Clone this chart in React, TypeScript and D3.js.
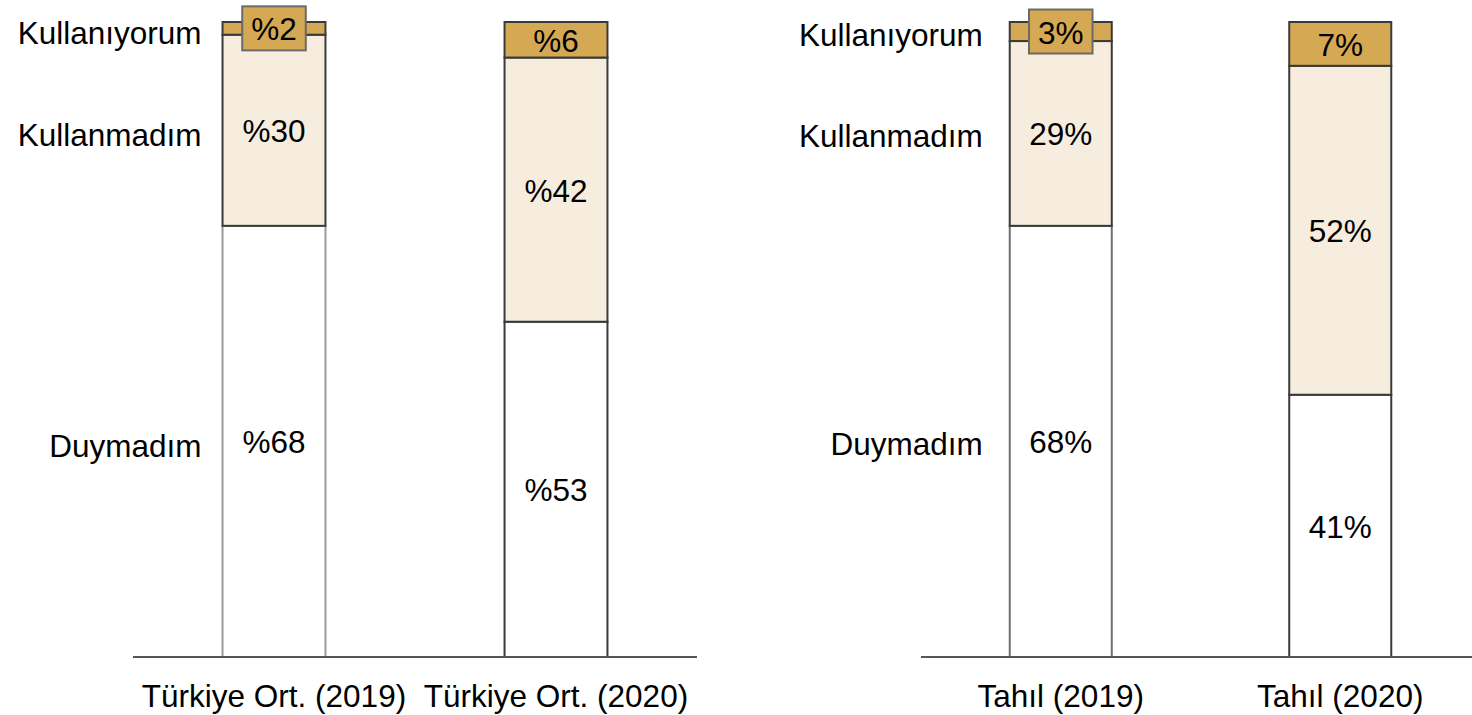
import React, { useEffect, useRef } from 'react';
import * as d3 from 'd3';

// segment names, bottom to top
const categories = ['Duymadım', 'Kullanmadım', 'Kullanıyorum'];

// left panel
const leftGroups = ['Türkiye Ort. (2019)', 'Türkiye Ort. (2020)'];
const leftDuymadim = [67.9, 52.8];
const leftKullanmadim = [30.1, 41.6];
const leftKullaniyorum = [2.0, 5.6];

// right panel
const rightGroups = ['Tahıl (2019)', 'Tahıl (2020)'];
const rightDuymadim = [67.9, 41.3];
const rightKullanmadim = [29.1, 51.8];
const rightKullaniyorum = [3.0, 6.9];

const width = 1472;
const height = 715;
const font = '"Liberation Sans", Arial, sans-serif';
const fontSize = '31.5px';
const fills = ['#ffffff', '#f6eddf', '#d5a853'];

export default function App() {
    const svgRef = useRef<SVGSVGElement>(null);

    useEffect(() => {
        const svg = d3.select(svgRef.current)
            .attr('width', width)
            .attr('height', height);

        svg.selectAll('*').remove();

        const yScale = d3.scaleLinear()
            .domain([0, 100])
            .range([657, 22]);

        const panels = [
            {
                groups: leftGroups,
                series: [leftDuymadim, leftKullanmadim, leftKullaniyorum],
                range: [133, 697],
                fmt: (v: number) => '%' + Math.round(v),
                sideColor: '#9a9a9a',
                labelShift: 5,
                labelGap: 21,
            },
            {
                groups: rightGroups,
                series: [rightDuymadim, rightKullanmadim, rightKullaniyorum],
                range: [921, 1480],
                fmt: (v: number) => Math.round(v) + '%',
                sideColor: '#6f6f6f',
                labelShift: 3,
                labelGap: 27,
            },
        ];

        panels.forEach(p => {
            const xScale = d3.scaleBand()
                .domain(p.groups)
                .range(p.range as [number, number])
                .paddingInner(0.635)
                .paddingOuter(0.3175);

            const rows = p.groups.map((g, i) => {
                const r: any = { group: g };
                categories.forEach((c, j) => { r[c] = p.series[j][i]; });
                return r;
            });
            const stacked = d3.stack().keys(categories)(rows);

            const g = svg.append('g');

            // bars
            stacked.forEach((layer, li) => {
                layer.forEach((d, i) => {
                    const x = xScale(p.groups[i])!;
                    const y0 = yScale(d[1]);
                    const y1 = yScale(d[0]);
                    g.append('rect')
                        .attr('x', x)
                        .attr('y', y0)
                        .attr('width', xScale.bandwidth())
                        .attr('height', y1 - y0)
                        .attr('fill', fills[li])
                        .attr('stroke', li === 0 && i === 0 ? p.sideColor : '#3a3a3a')
                        .attr('stroke-width', 2);
                });
            });

            // value labels
            stacked.forEach((layer, li) => {
                layer.forEach((d, i) => {
                    const cx = xScale(p.groups[i])! + xScale.bandwidth() / 2;
                    const cy = (yScale(d[0]) + yScale(d[1])) / 2;
                    const small = yScale(d[0]) - yScale(d[1]) < 30;
                    const box = small ? g.append('rect') : null;
                    const t = g.append('text')
                        .attr('x', cx)
                        .attr('y', cy + 1)
                        .attr('text-anchor', 'middle')
                        .attr('dominant-baseline', 'central')
                        .style('font-family', font)
                        .style('font-size', fontSize)
                        .attr('fill', '#000')
                        .text(p.fmt(d[1] - d[0]));
                    if (box) {
                        const w = (t.node() as SVGTextElement).getComputedTextLength() + 18;
                        box.attr('x', cx - w / 2)
                            .attr('y', cy - 22)
                            .attr('width', w)
                            .attr('height', 44)
                            .attr('fill', fills[li])
                            .attr('stroke', '#6a6a6a')
                            .attr('stroke-width', 2);
                    }
                });
            });

            // category labels beside the first bar
            stacked.forEach((layer) => {
                const d = layer[0];
                const cy = (yScale(d[0]) + yScale(d[1])) / 2;
                g.append('text')
                    .attr('x', xScale(p.groups[0])! - p.labelGap)
                    .attr('y', cy + p.labelShift)
                    .attr('text-anchor', 'end')
                    .attr('dominant-baseline', 'central')
                    .style('font-family', font)
                    .style('font-size', fontSize)
                    .attr('fill', '#000')
                    .text(layer.key);
            });

            // baseline
            g.append('line')
                .attr('x1', p.range[0])
                .attr('x2', p.range[1])
                .attr('y1', yScale(0))
                .attr('y2', yScale(0))
                .attr('stroke', '#555')
                .attr('stroke-width', 2);

            // group labels
            p.groups.forEach(gr => {
                g.append('text')
                    .attr('x', xScale(gr)! + xScale.bandwidth() / 2)
                    .attr('y', 696)
                    .attr('text-anchor', 'middle')
                    .attr('dominant-baseline', 'central')
                    .style('font-family', font)
                    .style('font-size', fontSize)
                    .attr('fill', '#000')
                    .text(gr);
            });
        });
    });

    return (
        <div style={{ position: 'absolute', left: 0, top: 0 }}>
            <svg ref={svgRef} style={{ display: 'block' }}></svg>
        </div>
    );
}
